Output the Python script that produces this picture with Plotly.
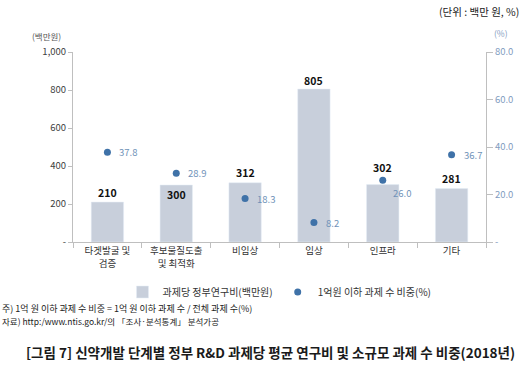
import plotly.graph_objects as go

categories = ["타겟발굴 및<br>검증", "후보물질도출<br>및 최적화", "비임상", "임상", "인프라", "기타"]
funding = [210, 300, 312, 805, 302, 281]
small_share = [37.8, 28.9, 18.3, 8.2, 26.0, 36.7]
left_ticks = [0, 200, 400, 600, 800, 1000]
left_tick_text = ["-", "200", "400", "600", "800", "1,000"]
right_ticks = [0, 20, 40, 60, 80]
right_tick_text = ["-", "20.0", "40.0", "60.0", "80.0"]

# label offsets (pixels) – styling only
bar_label_shift = [10, -9, 10, 9, 17, 10]
dot_label_shift = [(10, 0), (10, 0), (10, 0), (10, 0), (8, -13), (10, 0)]

FONT = "Noto Sans CJK KR, sans-serif"
BAR_C = "#c8cfdb"
DOT_C = "#3f72a8"
DOT_TXT = "#6f92b8"

W, H = 527, 366
L, R, T, B = 73, 41, 52, 124

fig = go.Figure()
fig.add_trace(go.Bar(
    x=categories, y=funding, name="과제당 정부연구비(백만원)",
    marker_color=BAR_C, width=0.47,
))
fig.add_trace(go.Scatter(
    x=categories, y=small_share, name="1억원 이하 과제 수 비중(%)", yaxis="y2",
    mode="markers", marker=dict(color=DOT_C, size=7), cliponaxis=False,
))

for c, v, s in zip(categories, funding, bar_label_shift):
    fig.add_annotation(x=c, y=v, xref="x", yref="y", text=f"<b>{v}</b>", showarrow=False,
                       yshift=s, yanchor="middle",
                       font=dict(family=FONT, size=10.5, color="#111111"))
for c, v, (dx, dy) in zip(categories, small_share, dot_label_shift):
    fig.add_annotation(x=c, y=v, xref="x", yref="y2", text=f"{v:.1f}", showarrow=False,
                       xshift=dx, yshift=dy, xanchor="left", yanchor="middle",
                       font=dict(family=FONT, size=9.5, color=DOT_TXT))

fig.update_layout(
    width=W, height=H,
    margin=dict(l=L, r=R, t=T, b=B, autoexpand=False),
    paper_bgcolor="white", plot_bgcolor="white",
    font=dict(family=FONT, size=10, color="#333333"),
    showlegend=True,
    legend=dict(orientation="h", x=0.5, xanchor="center", y=-(292 - (H - B)) / (H - T - B),
                yanchor="middle", itemwidth=30,
                font=dict(family=FONT, size=10, color="#333333")),
    xaxis=dict(type="category", showline=True, linecolor="#bfbfbf", linewidth=1,
               ticks="outside", tickson="boundaries", ticklen=5, tickcolor="#bfbfbf",
               tickangle=0, automargin=False,
               tickfont=dict(family=FONT, size=9.5, color="#333333"), showgrid=False),
    yaxis=dict(range=[0, 1000], tickvals=left_ticks, ticktext=left_tick_text,
               showline=True, linecolor="#bfbfbf", ticks="outside", ticklen=4,
               tickcolor="#bfbfbf", showgrid=False, zeroline=False, automargin=False,
               tickfont=dict(family=FONT, size=9.5, color="#404040")),
    yaxis2=dict(range=[0, 80], tickvals=right_ticks, ticktext=right_tick_text,
                overlaying="y", side="right", showline=True, linecolor="#bfbfbf",
                ticks="outside", ticklen=6, tickcolor="#bfbfbf", showgrid=False,
                zeroline=False, automargin=False,
                tickfont=dict(family=FONT, size=9.5, color="#7f9cc0")),
)

ann = [
    dict(text="(단위 : 백만 원, %)", x=521, y=11, xanchor="right", font=dict(size=10.5, color="#222222")),
    dict(text="(백만원)", x=46, y=36, xanchor="center", font=dict(size=8.5, color="#555555")),
    dict(text="(%)", x=501, y=33, xanchor="center", font=dict(size=8.5, color="#7f9cc0")),
    dict(text="주) 1억 원 이하 과제 수 비중 = 1억 원 이하 과제 수 / 전체 과제 수(%)", x=0, y=308, xanchor="left", font=dict(size=9, color="#222222")),
    dict(text="자료) http:/www.ntis.go.kr/의 「조사·분석통계」 분석가공", x=0, y=321, xanchor="left", font=dict(size=8.5, color="#222222")),
    dict(text="<b>[그림 7] 신약개발 단계별 정부 R&amp;D 과제당 평균 연구비 및 소규모 과제 수 비중(2018년)</b>", x=270, y=352, xanchor="center", font=dict(size=13.5, color="#1a1a1a")),
]
for a in ann:
    fig.add_annotation(xref="paper", yref="paper", showarrow=False, yanchor="middle",
                       x=(a["x"] - L) / (W - L - R), y=1 - (a["y"] - T) / (H - T - B),
                       text=a["text"], xanchor=a["xanchor"],
                       font=dict(family=FONT, **a["font"]))

fig.write_html("out.html", config={"displayModeBar": False},
               post_script="document.body.style.margin='0';")
